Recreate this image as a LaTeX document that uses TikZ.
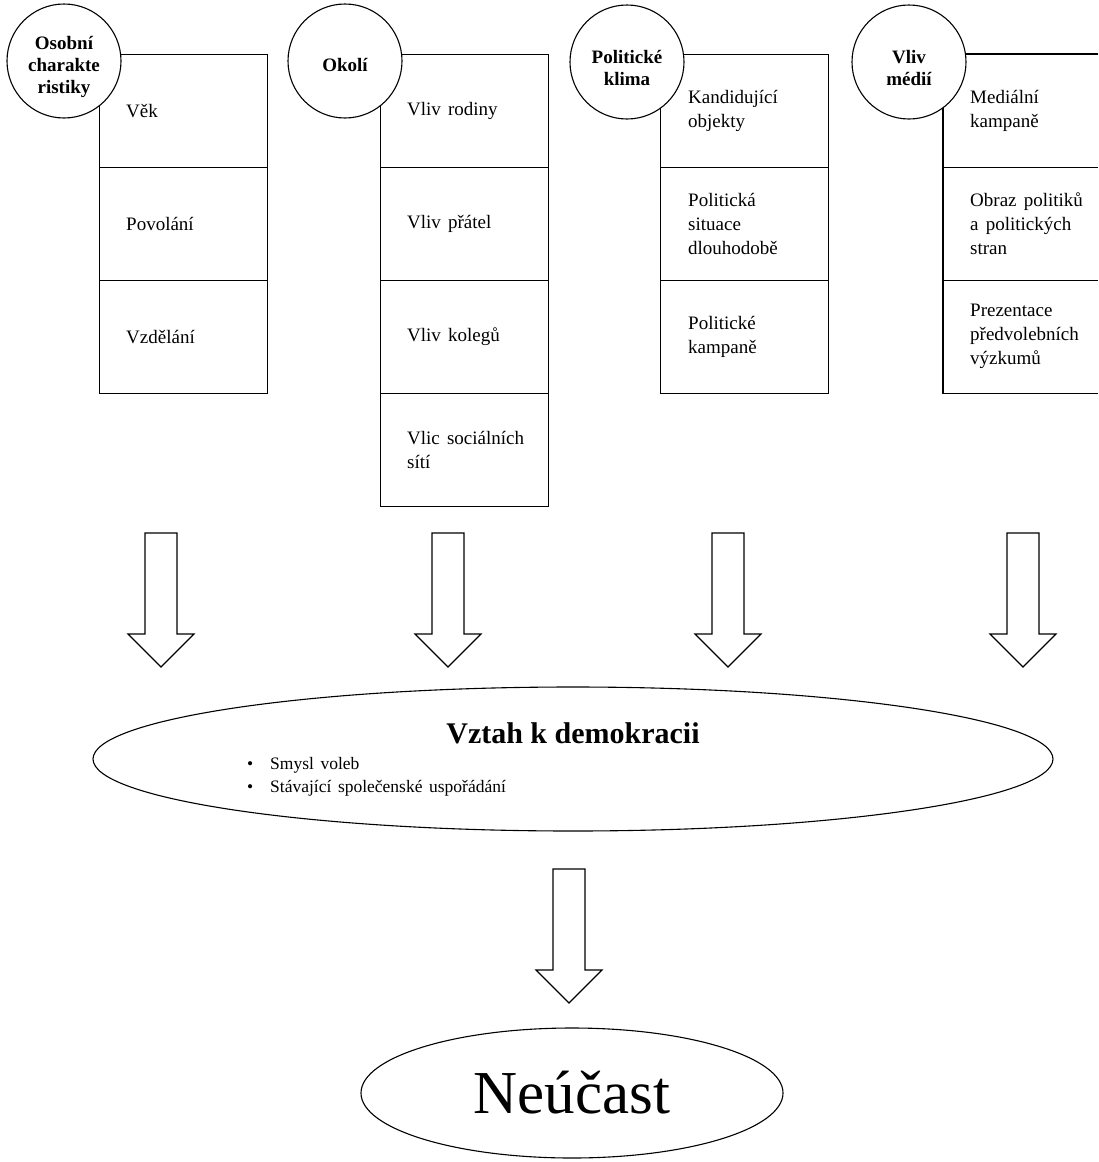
\documentclass[tikz,border=0pt]{standalone}
\usepackage{fontspec}
\setmainfont{Liberation Serif}
\newfontfamily\cellfont{Liberation Serif}[WordSpace=1.5]
\usetikzlibrary{shapes.geometric}
\tikzset{
  cellbox/.style={draw, line width=1.1pt, minimum width=168pt, minimum height=113pt, anchor=north west, inner sep=0pt},
  cellopen/.style={minimum width=155pt, minimum height=113pt, anchor=north west, inner sep=0pt},
  celltext/.style={anchor=west, align=left, inner sep=0pt, font=\cellfont\fontsize{19}{24}\selectfont},
  headcircle/.style={circle, draw, fill=white, line width=1.1pt, minimum size=114pt, inner sep=0pt},
  headtext/.style={inner sep=0pt, align=center, font=\bfseries\fontsize{19}{22}\selectfont},
  bigoval/.style={ellipse, draw, line width=1.1pt, inner sep=0pt},
  blockarrow/.pic={\draw[line width=1.1pt, line join=miter, fill=white] (-16,0) -- (16,0) -- (16,101) -- (33,101) -- (0,134) -- (-33,101) -- (-16,101) -- cycle;}
}
\begin{document}
\begin{tikzpicture}[x=1pt,y=-1pt]
\useasboundingbox (0,0) rectangle (1098,1162);
% column 1
\node[cellbox] (a1) at (99,54) {};
\node[cellbox] (a2) at (99,167) {};
\node[cellbox] (a3) at (99,280) {};
\node[celltext] (ta1) at ([xshift=27pt]a1.west) {Věk};
\node[celltext] (ta2) at ([xshift=27pt]a2.west) {Povolání};
\node[celltext] (ta3) at ([xshift=27pt]a3.west) {Vzdělání};
% column 2
\node[cellbox] (b1) at (380,54) {};
\node[cellbox] (b2) at (380,167) {};
\node[cellbox] (b3) at (380,280) {};
\node[cellbox] (b4) at (380,393) {};
\node[celltext] (tb1) at ([xshift=27pt]b1.west) {Vliv rodiny};
\node[celltext] (tb2) at ([xshift=27pt]b2.west) {Vliv přátel};
\node[celltext] (tb3) at ([xshift=27pt]b3.west) {Vliv kolegů};
\node[celltext] (tb4) at ([xshift=27pt]b4.west) {Vlic sociálních\\sítí};
% column 3
\node[cellbox] (c1) at (660,54) {};
\node[cellbox] (c2) at (660,167) {};
\node[cellbox] (c3) at (660,280) {};
\node[celltext] (tc1) at ([xshift=28pt]c1.west) {Kandidující\\objekty};
\node[celltext] (tc2) at ([xshift=28pt]c2.west) {Politická\\situace\\dlouhodobě};
\node[celltext] (tc3) at ([xshift=28pt]c3.west) {Politické\\kampaně};
% column 4 (cut by the page edge)
\node[cellopen] (d1) at (943,54) {};
\node[cellopen] (d2) at (943,167) {};
\node[cellopen] (d3) at (943,280) {};
\draw[line width=1.1pt] (d1.north east) -- (d1.north west) -- (d3.south west) -- (d3.south east);
\draw[line width=1.1pt] (d1.south west) -- (d1.south east);
\draw[line width=1.1pt] (d2.south west) -- (d2.south east);
\node[celltext] (td1) at ([xshift=27pt]d1.west) {Mediální\\kampaně};
\node[celltext] (td2) at ([xshift=27pt]d2.west) {Obraz politiků\\a politických\\stran};
\node[celltext] (td3) at ([xshift=27pt]d3.west) {Prezentace\\předvolebních\\výzkumů};
% header circles
\node[headcircle] (h1) at (64,61) {};
\node[headcircle] (h2) at (345,61) {};
\node[headcircle] (h3) at (627,62) {};
\node[headcircle] (h4) at (909,62) {};
\node[headtext] (h1t) at ([yshift=-6pt]h1.center) {Osobní\\charakte\\ristiky};
\node[headtext] (h2t) at ([yshift=-4pt]h2.center) {Okolí};
\node[headtext] (h3t) at ([yshift=-6pt]h3.center) {Politické\\klima};
\node[headtext] (h4t) at ([yshift=-6pt]h4.center) {Vliv\\médií};
% block arrows
\coordinate (p1) at (161,533);
\coordinate (p2) at (448,533);
\coordinate (p3) at (728,533);
\coordinate (p4) at (1023,533);
\coordinate (p5) at (569,869);
\pic at (p1) {blockarrow};
\pic at (p2) {blockarrow};
\pic at (p3) {blockarrow};
\pic at (p4) {blockarrow};
\pic at (p5) {blockarrow};
% relation to democracy
\node[bigoval, minimum width=960pt, minimum height=144pt] (vztah) at (573,759) {};
\node[anchor=base, inner sep=0pt, font=\bfseries\fontsize{30}{34}\selectfont] (vtitle) at (573,743) {Vztah k demokracii};
\node[anchor=west, align=left, inner sep=0pt, font=\cellfont\fontsize{17.5}{23}\selectfont] (vlist) at (247,777)
  {\makebox[23pt][l]{•}Smysl voleb\\\makebox[23pt][l]{•}Stávající společenské uspořádání};
% non-participation
\node[bigoval, minimum width=422pt, minimum height=130pt, font=\fontsize{61}{66}\selectfont] (neucast) at (572,1093) {Neúčast};
\end{tikzpicture}
\end{document}
